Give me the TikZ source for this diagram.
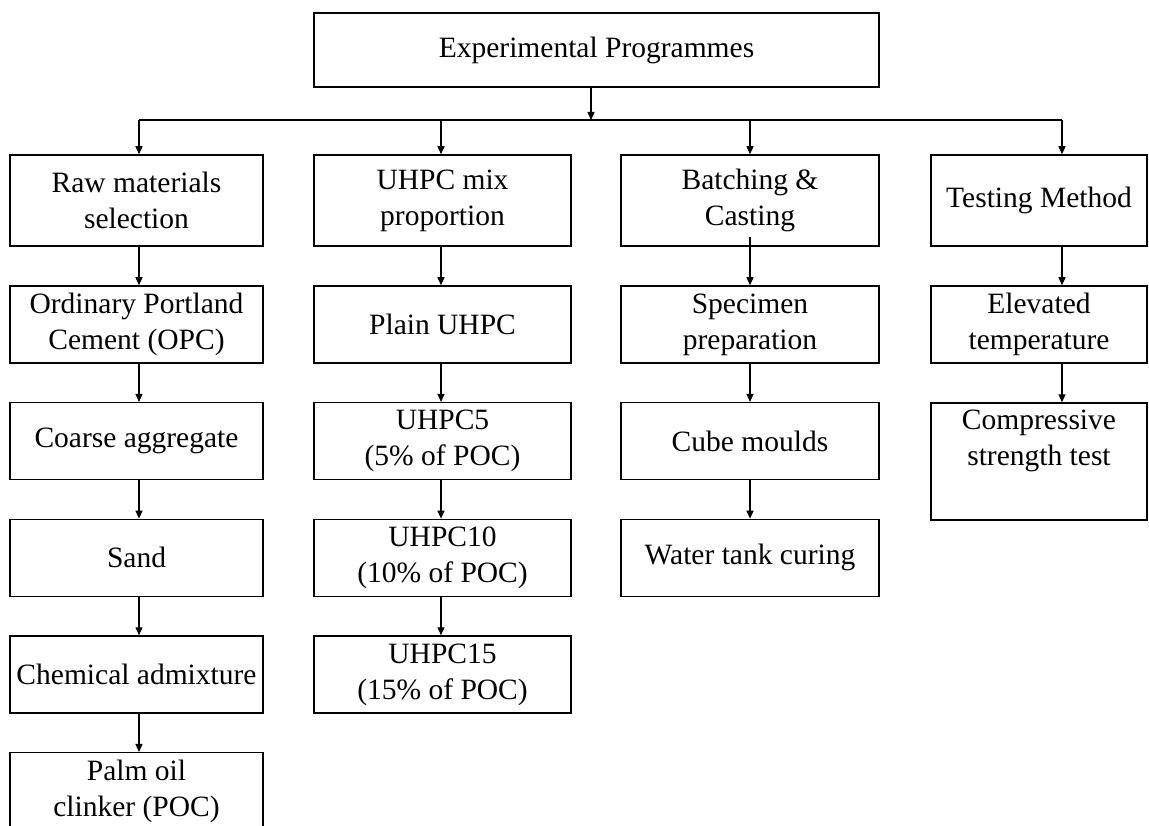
\documentclass[tikz,border=0pt]{standalone}
\usepackage{fontspec}
\setmainfont{Liberation Serif}
\usetikzlibrary{arrows.meta}
\begin{document}
\begin{tikzpicture}[x=1pt,y=-1pt,
  box/.style={draw, line width=1.5pt, rectangle, align=center, inner sep=0pt,
    font=\fontsize{29.5}{36}\selectfont},
  arr/.style={line width=1.3pt, -{Triangle[length=8pt,width=7pt]}},
  ln/.style={line width=1.3pt}]
\path[fill=white] (0,0) rectangle (1149,826);
\useasboundingbox (0,0) rectangle (1149,826);
\clip (0,0) rectangle (1149,826);
% column arrow positions
\coordinate (a1) at (139,0);
\coordinate (a2) at (441,0);
\coordinate (a3) at (750,0);
\coordinate (a4) at (1062,0);
\coordinate (J) at (591,120);
\coordinate (L1) at (139,120);
\coordinate (L4) at (1062,120);
% top
\node[box, minimum width=565, minimum height=74] (top) at (596.5,50) {Experimental Programmes};
% row 1
\node[box, minimum width=253, minimum height=91] (raw) at (136.5,200.5) {Raw materials\\selection};
\node[box, minimum width=257, minimum height=91] (mix) at (442.5,200.5) {UHPC mix\\proportion};
\node[box, minimum width=258, minimum height=91] (batch) at (750,200.5) {Batching \&\\Casting};
\node[box, minimum width=216, minimum height=91] (test) at (1039,200.5) {Testing Method};
% column 1
\node[box, minimum width=253, minimum height=77] (opc) at (136.5,324.5) {Ordinary Portland\\Cement (OPC)};
\node[box, minimum width=253, minimum height=77] (coarse) at (136.5,441.2) {Coarse aggregate};
\node[box, minimum width=253, minimum height=77] (sand) at (136.5,557.9) {Sand};
\node[box, minimum width=253, minimum height=77] (chem) at (136.5,674.5) {Chemical admixture};
\node[box, minimum width=253, minimum height=77] (poc) at (136.5,791.2) {Palm oil\\clinker (POC)};
% column 2
\node[box, minimum width=257, minimum height=77] (plain) at (442.5,324.5) {Plain UHPC};
\node[box, minimum width=257, minimum height=77] (u5) at (442.5,441.2) {UHPC5\\(5\% of POC)};
\node[box, minimum width=257, minimum height=77] (u10) at (442.5,557.9) {UHPC10\\(10\% of POC)};
\node[box, minimum width=257, minimum height=77] (u15) at (442.5,674.5) {UHPC15\\(15\% of POC)};
% column 3
\node[box, minimum width=258, minimum height=77] (spec) at (750,324.5) {Specimen\\preparation};
\node[box, minimum width=258, minimum height=77] (cube) at (750,441.2) {Cube moulds};
\node[box, minimum width=258, minimum height=77] (water) at (750,557.9) {Water tank curing};
% column 4
\node[box, minimum width=216, minimum height=77] (elev) at (1039,324.5) {Elevated\\temperature};
\node[box, minimum width=216, minimum height=117] (comp) at (1039,461.5) {Compressive\\strength test\\\strut};
% connectors from top
\draw[arr] (top.south -| J) -- (J);
\draw[ln] (L1) -- (L4);
\draw[arr] (L1) -- (raw.north -| a1);
\draw[arr] (L1 -| a2) -- (mix.north -| a2);
\draw[arr] (L1 -| a3) -- (batch.north -| a3);
\draw[arr] (L4) -- (test.north -| a4);
% column 1
\draw[arr] (raw.south -| a1) -- (opc.north -| a1);
\draw[arr] (opc.south -| a1) -- (coarse.north -| a1);
\draw[arr] (coarse.south -| a1) -- (sand.north -| a1);
\draw[arr] (sand.south -| a1) -- (chem.north -| a1);
\draw[arr] (chem.south -| a1) -- (poc.north -| a1);
% column 2
\draw[arr] (mix.south -| a2) -- (plain.north -| a2);
\draw[arr] (plain.south -| a2) -- (u5.north -| a2);
\draw[arr] (u5.south -| a2) -- (u10.north -| a2);
\draw[arr] (u10.south -| a2) -- (u15.north -| a2);
% column 3
\draw[arr] ([yshift=10pt]batch.south -| a3) -- (spec.north -| a3);
\draw[arr] (spec.south -| a3) -- (cube.north -| a3);
\draw[arr] (cube.south -| a3) -- (water.north -| a3);
% column 4
\draw[arr] (test.south -| a4) -- (elev.north -| a4);
\draw[arr] (elev.south -| a4) -- (comp.north -| a4);
\end{tikzpicture}
\end{document}
